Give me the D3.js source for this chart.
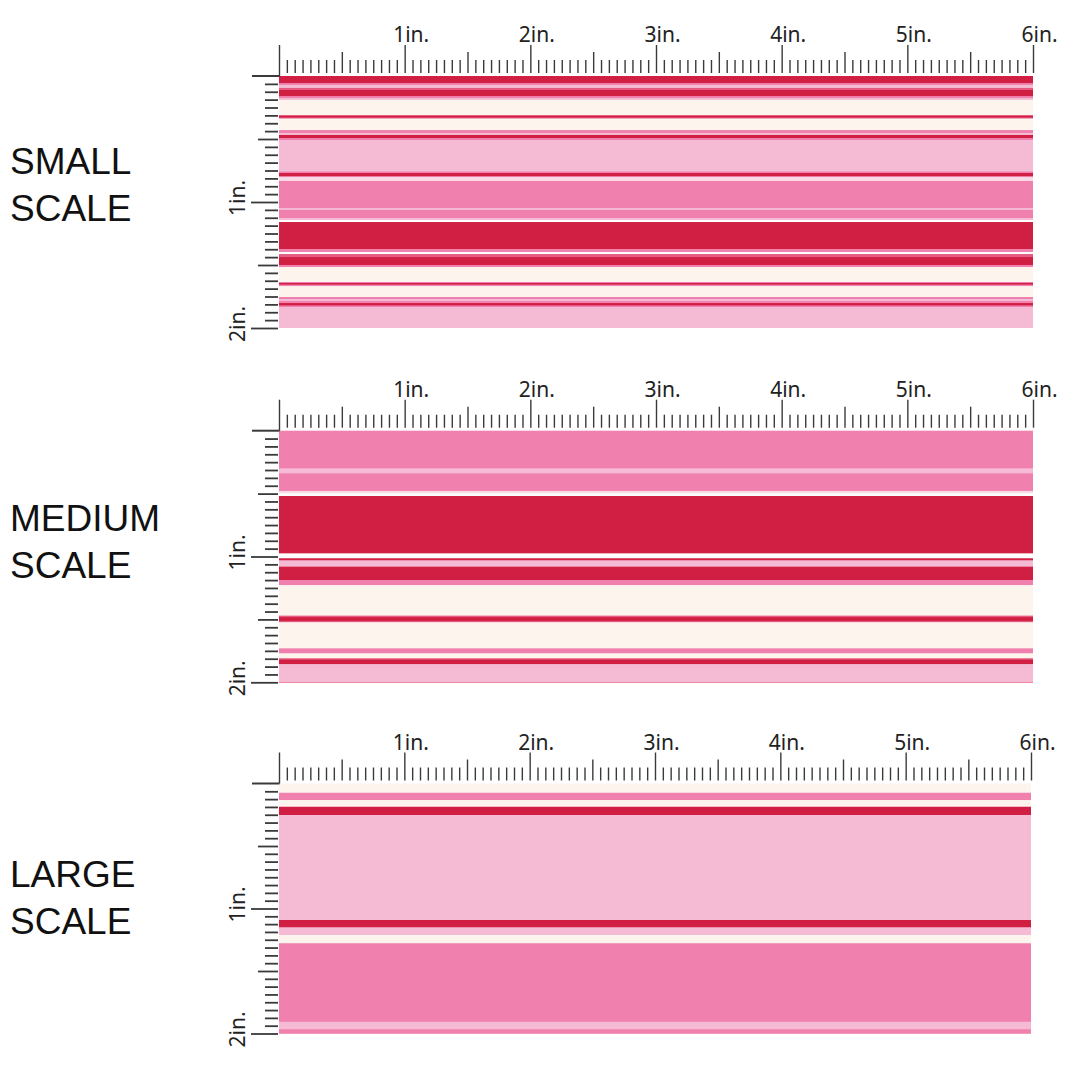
<!DOCTYPE html>
<html>
<head>
<meta charset="utf-8">
<script src="https://cdn.jsdelivr.net/npm/d3@7"></script>
<style>
  html, body { margin: 0; padding: 0; background: #ffffff; }
  svg { display: block; }
</style>
</head>
<body>
<svg id="chart" width="1080" height="1080"></svg>
<script>
// ---------------- DATA ----------------
const panelNames = ["SMALL", "MEDIUM", "LARGE"];
const scaleWord = "SCALE";
const topInchLabels = ["1in.", "2in.", "3in.", "4in.", "5in.", "6in."];
const topInchValues = [1, 2, 3, 4, 5, 6];
const sideInchLabels = ["1in.", "2in."];
const sideInchValues = [1, 2];

// fabric colour categories
const colorNames = ["crimson", "hotpink", "blush", "pale", "cream", "white", "rose"];
const colorHex   = ["#D11F43", "#F081AE", "#F5BBD4", "#FADCE7", "#FDF4EE", "#FFFFFF", "#E65A81"];

// stripe boundaries (inches from top edge) and stripe colours
const smallStops = [0, 0.056, 0.071, 0.095, 0.111, 0.159, 0.175, 0.190, 0.310, 0.317, 0.329, 0.337,
  0.429, 0.452, 0.468, 0.492, 0.508, 0.758, 0.770, 0.794, 0.802, 0.833, 1.048, 1.063, 1.127, 1.143,
  1.159, 1.373, 1.397, 1.413, 1.437, 1.500, 1.516, 1.635, 1.643, 1.655, 1.667, 1.754, 1.770, 1.786,
  1.802, 1.821, 1.833];
const smallColors = ["crimson", "hotpink", "blush", "rose", "crimson", "hotpink", "blush", "cream",
  "rose", "crimson", "rose", "cream", "hotpink", "blush", "crimson", "hotpink", "blush", "hotpink",
  "crimson", "hotpink", "pale", "hotpink", "blush", "hotpink", "blush", "white", "crimson", "hotpink",
  "white", "rose", "crimson", "hotpink", "cream", "hotpink", "crimson", "hotpink", "cream", "hotpink",
  "blush", "hotpink", "crimson", "hotpink", "blush"];

const mediumStops = [0, 0.299, 0.339, 0.479, 0.498, 0.519, 0.975, 1.014, 1.030, 1.081, 1.187, 1.227,
  1.470, 1.482, 1.512, 1.522, 1.730, 1.769, 1.809, 1.820, 1.855];
const mediumColors = ["hotpink", "blush", "hotpink", "pale", "white", "crimson", "white", "crimson",
  "blush", "crimson", "hotpink", "cream", "rose", "crimson", "rose", "cream", "hotpink", "cream",
  "rose", "crimson", "blush"];

const largeStops = [0, 0.074, 0.132, 0.186, 0.252, 1.092, 1.150, 1.212, 1.278, 1.906, 1.966];
const largeColors = ["cream", "hotpink", "cream", "crimson", "blush", "crimson", "blush", "cream",
  "hotpink", "blush", "hotpink"];

const panelStops = [smallStops, mediumStops, largeStops];
const panelColors = [smallColors, mediumColors, largeColors];

// ---------------- LAYOUT ----------------
const layout = [
  { top: 76,    bottom: 328,    left: 279, right: 1033, labelBase: 173.5 },
  { top: 430.7, bottom: 682.3,  left: 279, right: 1033, labelBase: 530.5 },
  { top: 783.5, bottom: 1033.5, left: 279, right: 1031, labelBase: 886.5 }
];
const fabricWidthIn = 6, fabricHeightIn = 2;
const tickColor = "#3a3a3a";

const svg = d3.select("#chart");
const color = d3.scaleOrdinal().domain(colorNames).range(colorHex);

panelNames.forEach((name, p) => {
  const L = layout[p];
  const x = d3.scaleLinear().domain([0, fabricWidthIn]).range([L.left, L.right]);
  const y = d3.scaleLinear().domain([0, fabricHeightIn]).range([L.top, L.bottom]);
  const g = svg.append("g");

  // stripes: each stripe painted from its start to bottom, later stripes overpaint
  const stops = panelStops[p], cols = panelColors[p];
  const stripes = stops.map((s, i) => ({ start: s, c: cols[i] }));
  g.append("g").selectAll("rect").data(stripes).join("rect")
    .attr("x", x(0))
    .attr("width", x(fabricWidthIn) - x(0))
    .attr("y", d => y(d.start))
    .attr("height", d => y(fabricHeightIn) - y(d.start))
    .attr("fill", d => color(d.c));

  // top ruler ticks (1/16 in)
  const topTicks = d3.range(0, fabricWidthIn * 16 + 1).map(i => i / 16);
  const topAxis = g.append("g")
    .attr("transform", `translate(0,${L.top - 3})`)
    .call(d3.axisTop(x).tickValues(topTicks).tickFormat("").tickSizeOuter(0));
  topAxis.select(".domain").remove();
  topAxis.selectAll(".tick line")
    .attr("stroke", tickColor)
    .attr("stroke-width", 1.4)
    .attr("y1", d => (d === 0 ? 3 : 0))
    .attr("y2", d => {
      const k = Math.round(d * 16);
      if (k % 16 === 0) return -28;
      if (k % 8 === 0) return -21;
      return -13;
    });

  // top labels
  const topLab = g.append("g")
    .attr("transform", `translate(0,${L.top - 34})`)
    .call(d3.axisTop(x).tickValues(topInchValues)
      .tickFormat((d, i) => topInchLabels[i]).tickSize(0).tickPadding(0));
  topLab.select(".domain").remove();
  topLab.selectAll(".tick text")
    .attr("dx", 6)
    .attr("dy", 0)
    .attr("font-family", "'Noto Sans', 'Open Sans', sans-serif")
    .attr("font-size", 21)
    .attr("fill", "#222");

  // corner line
  g.append("line")
    .attr("x1", x(0) - 27).attr("x2", x(0) + 0.5)
    .attr("y1", L.top).attr("y2", L.top)
    .attr("stroke", tickColor).attr("stroke-width", 2);

  // side ruler ticks
  const sideTicks = d3.range(1, fabricHeightIn * 16 + 1).map(i => i / 16);
  const sideAxis = g.append("g")
    .attr("transform", `translate(${L.left - 1},0)`)
    .call(d3.axisLeft(y).tickValues(sideTicks).tickFormat("").tickSizeOuter(0));
  sideAxis.select(".domain").remove();
  sideAxis.selectAll(".tick line")
    .attr("stroke", tickColor)
    .attr("stroke-width", 1.8)
    .attr("x2", d => {
      const k = Math.round(d * 16);
      if (k % 16 === 0) return -27;
      if (k % 8 === 0) return -20;
      return -13;
    });

  // side labels (rotated)
  g.append("g").selectAll("text").data(sideInchValues).join("text")
    .attr("transform", d => `translate(${L.left - 34},${y(d) - 4}) rotate(-90)`)
    .attr("text-anchor", "middle")
    .attr("font-family", "'Noto Sans', 'Open Sans', sans-serif")
    .attr("font-size", 21)
    .attr("fill", "#222")
    .text((d, i) => sideInchLabels[i]);

  // panel title
  const title = g.append("text")
    .attr("font-family", "'Liberation Sans', Arial, sans-serif")
    .attr("font-size", 37)
    .attr("fill", "#111");
  title.append("tspan").attr("x", 10).attr("y", L.labelBase).text(name);
  title.append("tspan").attr("x", 10).attr("y", L.labelBase + 47).text(scaleWord);
});
</script>
</body>
</html>
